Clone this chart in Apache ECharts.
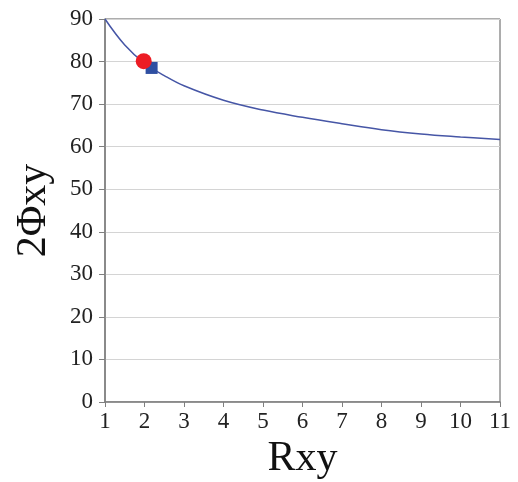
<!DOCTYPE html>
<html>
<head>
<meta charset="utf-8">
<script src="https://cdn.jsdelivr.net/npm/echarts@6/dist/echarts.min.js"></script>
<style>
  html, body { margin: 0; padding: 0; background: #fff; }
  #chart { width: 518px; height: 482px; }
</style>
</head>
<body>
<div id="chart"></div>
<script>
// curve
const rxy = [1, 1.5, 2, 2.5, 3, 4, 5, 6, 7, 8, 9, 10, 11]
const phi2 = [90, 83.9, 79.6, 76.7, 74.3, 70.9, 68.6, 66.9, 65.4, 64.0, 63.0, 62.3, 61.7]
const redPoint = [1.98, 80.1]
const bluePoint = [2.18, 78.5]

const serif = '"Liberation Serif", "DejaVu Serif", serif'

const chart = echarts.init(document.getElementById('chart'), null, { renderer: 'canvas' })

chart.setOption({
  animation: false,
  backgroundColor: '#fff',
  grid: {
    left: 105,
    right: 18,
    top: 19,
    bottom: 80,
    outerBoundsMode: 'none',
    containLabel: false,
    show: true,
    borderColor: '#5a5a5a',
    borderWidth: 1,
  },
  xAxis: {
    type: 'value',
    min: 1,
    max: 11,
    interval: 1,
    name: 'Rxy',
    nameLocation: 'middle',
    nameGap: 36,
    nameTextStyle: { fontFamily: serif, fontSize: 42, color: '#111' },
    axisLine: { onZero: false, lineStyle: { color: '#7f7f7f', width: 1.5 } },
    axisTick: { show: true, length: 5, lineStyle: { color: '#7f7f7f' } },
    axisLabel: { fontFamily: serif, fontSize: 23, color: '#222', margin: 8 },
    splitLine: { show: false },
  },
  yAxis: {
    type: 'value',
    min: 0,
    max: 90,
    interval: 10,
    name: '2Φxy',
    nameLocation: 'middle',
    nameGap: 50,
    nameRotate: 90,
    nameTextStyle: { fontFamily: serif, fontSize: 42, color: '#111' },
    axisLine: { show: true, onZero: false, lineStyle: { color: '#7f7f7f', width: 1.5 } },
    axisTick: { show: true, length: 6, lineStyle: { color: '#7f7f7f' } },
    axisLabel: { fontFamily: serif, fontSize: 23, color: '#222', margin: 12 },
    splitLine: { lineStyle: { color: '#d4d4d4', width: 1 } },
  },
  series: [
    {
      type: 'line',
      data: rxy.map((x, i) => [x, phi2[i]]),
      smooth: 0.4,
      showSymbol: false,
      lineStyle: { color: '#4656a6', width: 1.5 },
      z: 2,
    },
    {
      type: 'scatter',
      data: [bluePoint],
      symbol: 'rect',
      symbolSize: 12,
      itemStyle: { color: '#2f4fa2', opacity: 1 },
      z: 3,
    },
    {
      type: 'scatter',
      data: [redPoint],
      symbol: 'circle',
      symbolSize: 16,
      itemStyle: { color: '#ec1c24', opacity: 1 },
      z: 4,
    },
  ],
})
</script>
</body>
</html>
